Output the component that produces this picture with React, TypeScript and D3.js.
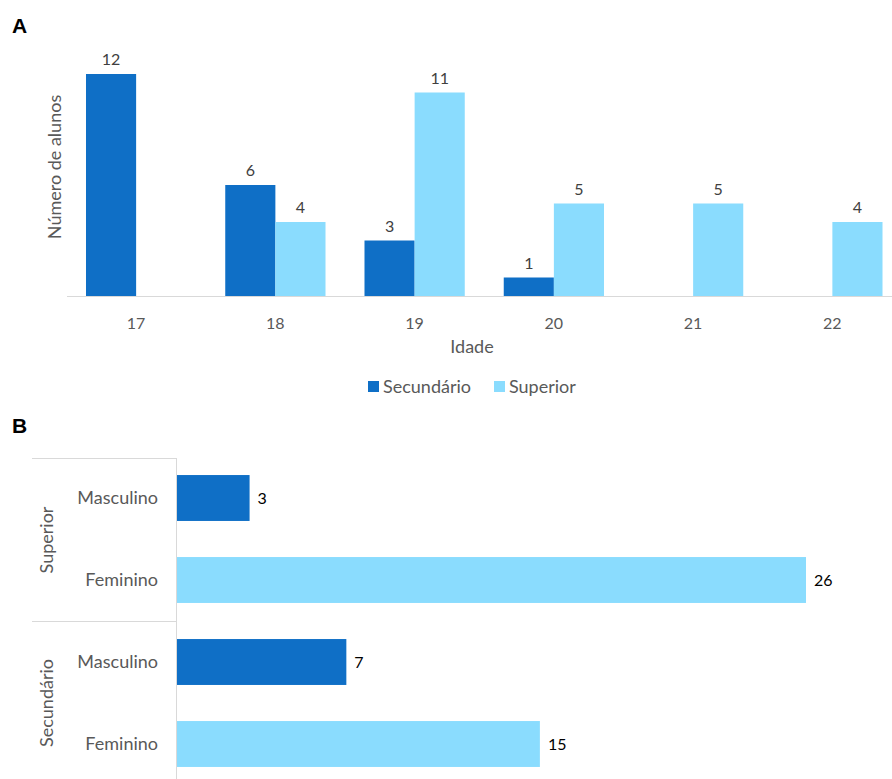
import React from "react";
import * as d3 from "d3";

const ages = ["17", "18", "19", "20", "21", "22"];
const seriesNames = ["Secundário", "Superior"];
const secundario = [12, 6, 3, 1, 0, 0];
const superior = [0, 4, 11, 5, 5, 4];

const groupsB = ["Superior", "Secundário"];
const sexes = ["Masculino", "Feminino"];
const superiorBySex = [3, 26];
const secundarioBySex = [7, 15];

const DARK = "#0F6FC6";
const LIGHT = "#8ADCFE";
const FONT = "Lato, 'Open Sans', sans-serif";

export default function App() {
  // Panel A
  const x0 = d3.scaleBand<string>().domain(ages).range([66.5, 902]).paddingInner(0.28).paddingOuter(0.14);
  const x1 = d3.scaleBand<string>().domain(seriesNames).range([0, x0.bandwidth()]);
  const yA = d3.scaleLinear().domain([0, 12]).range([296, 74]);
  const seriesVals = [secundario, superior];
  const colors = [DARK, LIGHT];

  // Panel B
  const rows = groupsB.flatMap((g) => sexes.map((s) => g + "|" + s));
  const rowVals = [...superiorBySex, ...secundarioBySex];
  const yB = d3.scaleBand<string>().domain(rows).range([457, 785]).paddingInner(0.44).paddingOuter(0.22);
  const xB = d3.scaleLinear().domain([0, 26]).range([177, 806]);

  return (
    <svg width={892} height={779} style={{ position: "absolute", left: 0, top: 0, background: "#fff" }}>
      <text x={12} y={33} fontFamily="Arial, 'Liberation Sans', sans-serif" fontWeight="bold" fontSize={21} fill="#000">A</text>
      <line x1={67} x2={892} y1={296.5} y2={296.5} stroke="#D9D9D9" strokeWidth={1} />
      {ages.map((a, i) =>
        seriesNames.map((s, j) => {
          const v = seriesVals[j][i];
          if (!v) return null;
          const x = (x0(a) as number) + (x1(s) as number);
          return (
            <g key={a + s}>
              <rect x={x} y={yA(v)} width={x1.bandwidth()} height={yA(0) - yA(v)} fill={colors[j]} />
              <text x={x + x1.bandwidth() / 2} y={yA(v) - 9} textAnchor="middle" fontFamily={FONT} fontSize={16} fill="#404040">{v}</text>
            </g>
          );
        })
      )}
      {ages.map((a) => (
        <text key={a} x={(x0(a) as number) + x0.bandwidth() / 2} y={329} textAnchor="middle" fontFamily={FONT} fontSize={16} fill="#595959">{a}</text>
      ))}
      <text x={472} y={353} textAnchor="middle" fontFamily={FONT} fontSize={18} fill="#595959">Idade</text>
      <text transform="translate(61,167) rotate(-90)" textAnchor="middle" fontFamily={FONT} fontSize={18} fill="#595959">Número de alunos</text>
      {seriesNames.map((s, j) => {
        const lx = [368, 494][j];
        return (
          <g key={s}>
            <rect x={lx} y={381} width={11} height={11} fill={colors[j]} />
            <text x={lx + 15} y={393} fontFamily={FONT} fontSize={18} fill="#595959">{s}</text>
          </g>
        );
      })}

      {/* Panel B */}
      <text x={12} y={433} fontFamily="Arial, 'Liberation Sans', sans-serif" fontWeight="bold" fontSize={21} fill="#000">B</text>
      <line x1={32} x2={176} y1={458.5} y2={458.5} stroke="#D9D9D9" />
      <line x1={32} x2={176} y1={621.5} y2={621.5} stroke="#D9D9D9" />
      <line x1={176.5} x2={176.5} y1={458} y2={779} stroke="#D9D9D9" />
      {rows.map((r, i) => {
        const v = rowVals[i];
        const y = yB(r) as number;
        const sex = r.split("|")[1];
        return (
          <g key={r}>
            <rect x={xB(0)} y={y} width={xB(v) - xB(0)} height={yB.bandwidth()} fill={i % 2 === 0 ? DARK : LIGHT} />
            <text x={xB(v) + 8} y={y + yB.bandwidth() / 2} dy="0.35em" fontFamily={FONT} fontSize={16} fill="#000">{v}</text>
            <text x={158} y={y + yB.bandwidth() / 2} dy="0.35em" textAnchor="end" fontFamily={FONT} fontSize={18} fill="#595959">{sex}</text>
          </g>
        );
      })}
      {groupsB.map((g, k) => {
        const cy = [540, 703][k];
        return (
          <text key={g} transform={`translate(53,${cy}) rotate(-90)`} textAnchor="middle" fontFamily={FONT} fontSize={18} fill="#595959">{g}</text>
        );
      })}
    </svg>
  );
}
